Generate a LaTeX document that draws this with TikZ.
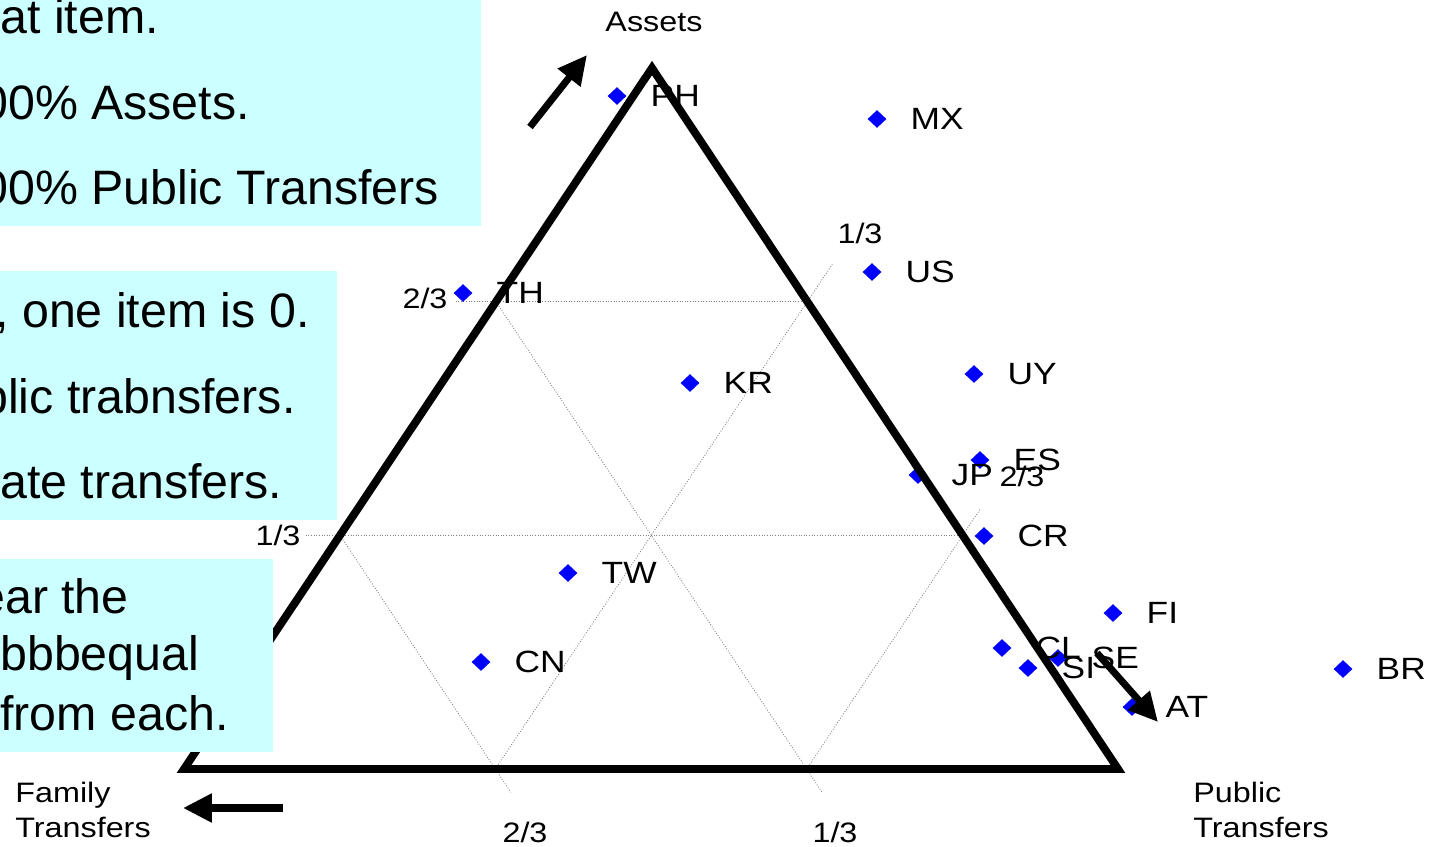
\documentclass[tikz,border=0pt]{standalone}
\usepackage{fontspec}
\setmainfont{Liberation Sans}
\newfontfamily\widefont[FakeStretch=1.15]{Liberation Sans}
\usetikzlibrary{positioning,shapes.geometric,arrows.meta,calc}

\definecolor{notecyan}{RGB}{204,255,255}
\definecolor{dotblue}{RGB}{0,0,255}

\tikzset{
  edge/.style={line width=4.5pt},
  bigarrow/.style={line width=4pt,-{Triangle[length=0.58cm,width=0.55cm]}},
  gridline/.style={gray,densely dotted,line width=0.5pt},
  country/.style={diamond,fill=dotblue,inner sep=0pt,minimum width=0.38cm,minimum height=0.36cm},
  clabel/.style={inner sep=0pt,font=\widefont\fontsize{17.5}{20}\selectfont},
  ticklabel/.style={inner sep=0pt,font=\widefont\fontsize{16}{20}\selectfont},
  note/.style={anchor=base west,inner sep=0pt,font=\fontsize{27.5}{30}\selectfont},
}

\begin{document}
\begin{tikzpicture}[x=0.02cm,y=-0.02cm]
  \useasboundingbox (0,0) rectangle (1431,846);
  \clip (0,0) rectangle (1431,846);

  % corners of the triangle
  \coordinate (top) at (652,68);
  \coordinate (bl) at (184,769);
  \coordinate (br) at (1118,769);
  \coordinate (l1) at ($(bl)!1/3!(top)$);
  \coordinate (l2) at ($(bl)!2/3!(top)$);
  \coordinate (r1) at ($(br)!1/3!(top)$);
  \coordinate (r2) at ($(br)!2/3!(top)$);
  \coordinate (b1) at ($(bl)!1/3!(br)$);
  \coordinate (b2) at ($(bl)!2/3!(br)$);

  % thirds
  \draw[gridline] ($(r2)!1.13!(l2)$) -- (r2);
  \draw[gridline] ($(r1)!1.055!(l1)$) -- (r1);
  \draw[gridline] (l2) -- ($(l2)!1.05!(b2)$);
  \draw[gridline] (l1) -- ($(l1)!1.10!(b1)$);
  \draw[gridline] (b1) -- ($(b1)!1.08!(r2)$);
  \draw[gridline] (b2) -- ($(b2)!1.115!(r1)$);

  \foreach \n/\x/\y in {PH/617/96, MX/877/119, US/872/272, TH/463/293,
      KR/690/383, UY/974/374, ES/980/460, JP/918/475, CR/984/536,
      TW/568/573, FI/1113/613, CN/481/662, CL/1002/648, SI/1028/668,
      SE/1058/658, AT/1132/707, BR/1343/669}
    \node[country] (\n) at (\x,\y) {};

  \draw[edge] (top) -- (bl) -- (br) -- cycle;

  \coordinate (assets-tail) at (530,127);
  \coordinate (assets-tip) at (587,55);
  \coordinate (family-tail) at (283,808);
  \coordinate (family-tip) at (183,808);
  \coordinate (public-tail) at (1097,653);
  \coordinate (public-tip) at (1158,722);
  \draw[bigarrow] (assets-tail) -- (assets-tip);
  \draw[bigarrow] (family-tail) -- (family-tip);
  \draw[bigarrow] (public-tail) -- (public-tip);

  \foreach \n in {PH,MX,US,TH,KR,UY,ES,JP,CR,TW,FI,CN,CL,SI,SE,AT,BR}
    \node[clabel, right=0.47cm of \n] (\n-lbl) {\n};

  \node[ticklabel] (assets) at (654,22) {Assets};
  \node[ticklabel, anchor=north west, align=left] (family) at (15,782) {Family\\Transfers};
  \node[ticklabel, anchor=north west, align=left] (public) at (1193,782) {Public\\Transfers};

  \node[ticklabel] (tick-l2) at (425,298) {2/3};
  \node[ticklabel] (tick-l1) at (278,535) {1/3};
  \node[ticklabel] (tick-r2) at (860,233) {1/3};
  \node[ticklabel] (tick-r1) at (1022,476) {2/3};
  \node[ticklabel] (tick-b1) at (525,832) {2/3};
  \node[ticklabel] (tick-b2) at (835,832) {1/3};

  % notes on the left
  \fill[notecyan] (0,0) rectangle (481,226);
  \node[note] (n1) at (0,33) {at item.};
  \node[note] (n2) at (-19,119) {00\% Assets.};
  \node[note] (n3) at (-19,204) {00\% Public Transfers};

  \fill[notecyan] (0,271) rectangle (337,520);
  \node[note] (n4) at (-5,327) {, one item is 0.};
  \node[note] (n5) at (-19,413) {blic trabnsfers.};
  \node[note] (n6) at (0,498) {ate transfers.};

  \fill[notecyan] (0,559) rectangle (273,752);
  \node[note] (n7) at (-22,613) {ear the};
  \node[note] (n8) at (0,670) {bbbequal};
  \node[note] (n9) at (0,730) {from each.};
\end{tikzpicture}
\end{document}
